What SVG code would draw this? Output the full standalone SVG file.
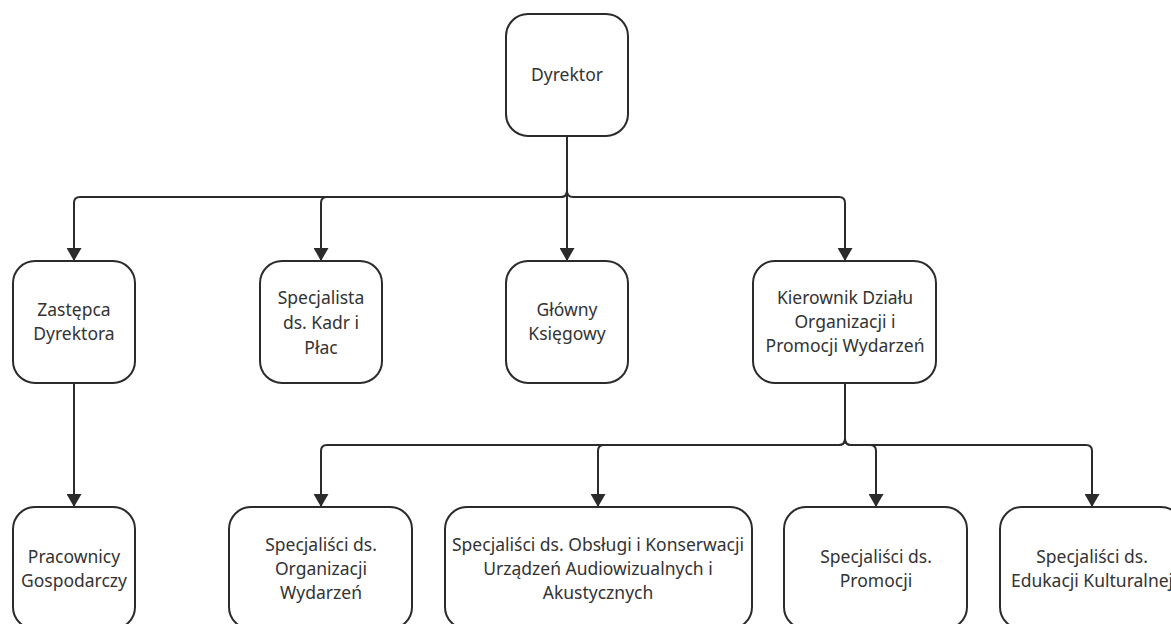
<svg xmlns="http://www.w3.org/2000/svg" width="1171" height="624" viewBox="0 0 1171 624">
<style>
.box{fill:#fff;stroke:#2b2b2b;stroke-width:2}
.t{font-family:"Noto Sans","Open Sans",sans-serif;font-size:17.5px;fill:#333;text-anchor:middle}
.c{fill:none;stroke:#2b2b2b;stroke-width:2}
</style>
<defs>
<marker id="ah" markerUnits="userSpaceOnUse" markerWidth="13" markerHeight="15" viewBox="0 0 13 15" refX="12" refY="7.5" orient="auto">
<path d="M0,0 L13,7.5 L0,15 Z" fill="#2b2b2b"/>
</marker>
</defs>
<rect width="1171" height="624" fill="#fff"/>
<g id="connectors">
<path class="c" d="M567,136 V260" marker-end="url(#ah)"/>
<path class="c" d="M567,136 V191 Q567,197 561,197 H80 Q74,197 74,203 V260" marker-end="url(#ah)"/>
<path class="c" d="M567,136 V191 Q567,197 561,197 H327 Q321,197 321,203 V260" marker-end="url(#ah)"/>
<path class="c" d="M567,136 V191 Q567,197 573,197 H839 Q845,197 845,203 V260" marker-end="url(#ah)"/>
<path class="c" d="M74,383 V506" marker-end="url(#ah)"/>
<path class="c" d="M845,383 V439 Q845,445 839,445 H327 Q321,445 321,451 V506" marker-end="url(#ah)"/>
<path class="c" d="M845,383 V439 Q845,445 839,445 H604 Q598,445 598,451 V506" marker-end="url(#ah)"/>
<path class="c" d="M845,383 V439 Q845,445 851,445 H870 Q876,445 876,451 V506" marker-end="url(#ah)"/>
<path class="c" d="M845,383 V439 Q845,445 851,445 H1086 Q1092,445 1092,451 V506" marker-end="url(#ah)"/>
</g>
<g id="dyrektor"><rect class="box" x="506" y="14" width="122" height="122" rx="22"/><text class="t" x="567" y="81">Dyrektor</text></g>
<g id="zastepca"><rect class="box" x="13" y="261" width="122" height="122" rx="22"/><text class="t" x="74" y="316">Zastępca</text><text class="t" x="74" y="340">Dyrektora</text></g>
<g id="kadry"><rect class="box" x="260" y="261" width="122" height="122" rx="22"/><text class="t" x="321" y="304">Specjalista</text><text class="t" x="321" y="329">ds. Kadr i</text><text class="t" x="321" y="354">Płac</text></g>
<g id="ksiegowy"><rect class="box" x="506" y="261" width="122" height="122" rx="22"/><text class="t" x="567" y="316">Główny</text><text class="t" x="567" y="340">Księgowy</text></g>
<g id="kierownik"><rect class="box" x="753" y="261" width="183" height="122" rx="22"/><text class="t" x="845" y="304">Kierownik Działu</text><text class="t" x="845" y="328">Organizacji i</text><text class="t" x="845" y="352">Promocji Wydarzeń</text></g>
<g id="pracownicy"><rect class="box" x="13" y="507" width="122" height="122" rx="22"/><text class="t" x="74" y="563">Pracownicy</text><text class="t" x="74" y="587">Gospodarczy</text></g>
<g id="organizacja"><rect class="box" x="229" y="507" width="183" height="122" rx="22"/><text class="t" x="321" y="551">Specjaliści ds.</text><text class="t" x="321" y="575">Organizacji</text><text class="t" x="321" y="599">Wydarzeń</text></g>
<g id="obsluga"><rect class="box" x="445" y="507" width="307" height="122" rx="22"/><text class="t" x="598" y="551">Specjaliści ds. Obsługi i Konserwacji</text><text class="t" x="598" y="575">Urządzeń Audiowizualnych i</text><text class="t" x="598" y="599">Akustycznych</text></g>
<g id="promocja"><rect class="box" x="784" y="507" width="183" height="122" rx="22"/><text class="t" x="876" y="563">Specjaliści ds.</text><text class="t" x="876" y="587">Promocji</text></g>
<g id="edukacja"><rect class="box" x="1000" y="507" width="183" height="122" rx="22"/><text class="t" x="1092" y="563">Specjaliści ds.</text><text class="t" x="1092" y="587">Edukacji Kulturalnej</text></g>
</svg>
